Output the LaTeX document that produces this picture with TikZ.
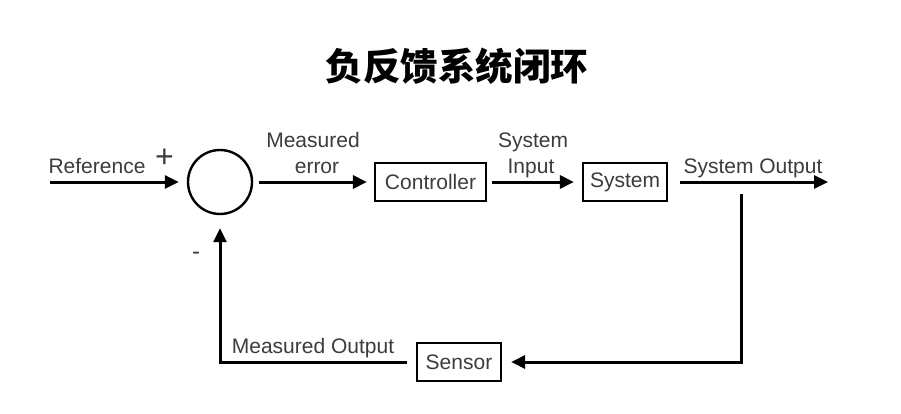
\documentclass[tikz,border=0pt]{standalone}
\usepackage{fontspec}
\setmainfont{Liberation Sans}
\newfontfamily\cjk{Noto Sans CJK SC}
\usetikzlibrary{arrows.meta}
\definecolor{txt}{HTML}{3c3c3c}
\tikzset{
  wire/.style={line width=3pt, line join=miter},
  arr/.style={wire, -{Triangle[length=14pt,width=13pt]}},
  block/.style={draw, line width=2.2pt, minimum height=38pt, inner sep=0pt, font=\fontsize{21}{24}\selectfont, text=txt},
  sumnode/.style={draw, circle, line width=2.4pt, minimum size=64pt, inner sep=0pt},
  lbl/.style={anchor=base, inner sep=0pt, font=\fontsize{21}{24}\selectfont, text=txt},
  sgn/.style={anchor=center, inner sep=0pt, text=txt}
}
\begin{document}
\begin{tikzpicture}[x=1pt,y=-1pt]
\useasboundingbox[fill=white] (0,0) rectangle (901,414);
\node[inner sep=0pt, font=\cjk\bfseries\fontsize{37.5}{40}\selectfont] (title) at (457,66) {负反馈系统闭环};

\node[sumnode] (sum) at (220,182) {};
\node[block, minimum width=111pt] (ctrl) at (430.5,182) {Controller};
\node[block, minimum width=84pt] (sys) at (625,182) {System};
\node[block, minimum width=84pt] (sensor) at (459,362) {Sensor};

\coordinate (refin) at (50,182);
\coordinate (out) at (828,182);
\coordinate (branch) at (741,194);

\draw[arr, shorten >=8pt] (refin) -- (sum.west);
\draw[arr, shorten <=6pt, shorten >=7pt] (sum.east) -- (ctrl.west);
\draw[arr, shorten <=5pt, shorten >=8pt] (ctrl.east) -- (sys.west);
\draw[arr, shorten <=12pt] (sys.east) -- (out);
\draw[arr, shorten >=9pt] (branch) |- (sensor.east);
\draw[arr, shorten <=9pt, shorten >=13pt] (sensor.west) -| (sum.south);

\node[lbl] (lref) at (97,173) {Reference};
\node[sgn, font=\fontsize{32}{34}\selectfont] (plus) at (164.5,158) {+};
\node[sgn, font=\fontsize{24}{28}\selectfont] (minus) at (196,256) {-};
\node[lbl] (lme1) at (313,148) {Measured};
\node[lbl] (lme2) at (317,173) {error};
\node[lbl] (lsi1) at (533,148) {System};
\node[lbl] (lsi2) at (531,173) {Input};
\node[lbl] (lso) at (753,173) {System Output};
\node[lbl] (lmo) at (313,353) {Measured Output};
\end{tikzpicture}
\end{document}
